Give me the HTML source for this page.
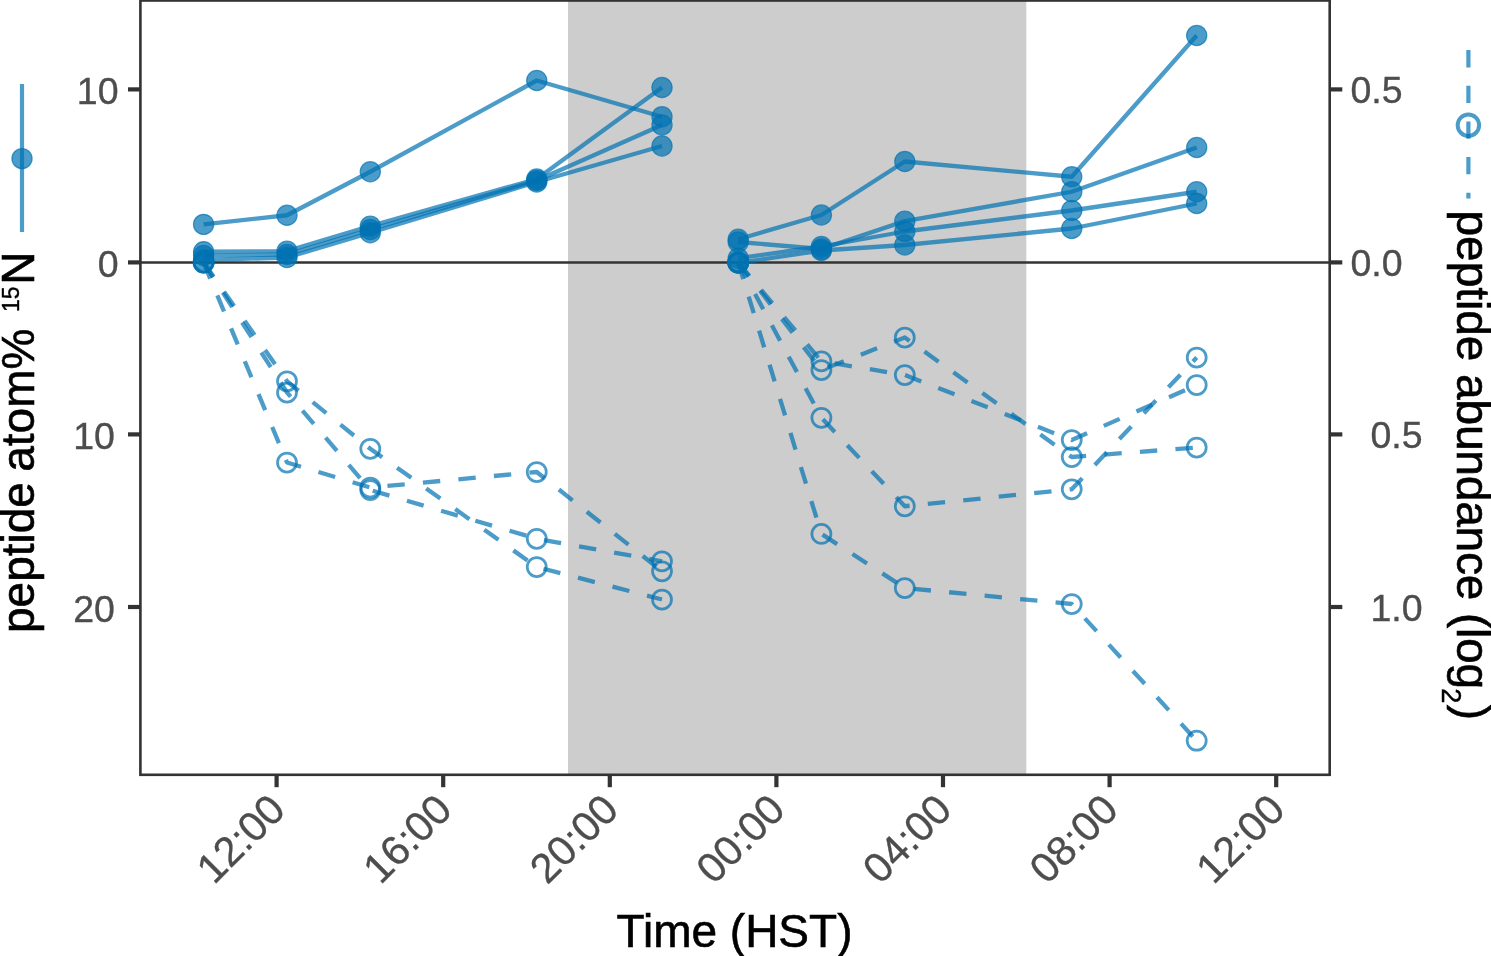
<!DOCTYPE html>
<html lang="en"><head><meta charset="utf-8"><title>peptide atom% 15N and abundance over time</title>
<style>
html,body{margin:0;padding:0;background:#fff;}
body{width:1491px;height:956px;overflow:hidden;}
svg{display:block;}
text{font-family:"Liberation Sans",sans-serif;}
.tk{font-size:37.5px;fill:#4d4d4d;stroke:#4d4d4d;stroke-width:0.35px;}
.tx{font-size:41.5px;fill:#4d4d4d;stroke:#4d4d4d;stroke-width:0.35px;}
.ti{font-size:46px;fill:#000;stroke:#000;stroke-width:0.6px;}
.ss{font-size:23px;stroke-width:0.4px;}
.sb{font-size:27px;stroke-width:0.45px;}
</style></head><body>
<svg width="1491" height="956" viewBox="0 0 1491 956">
<rect x="0" y="0" width="1491" height="956" fill="#ffffff"/>
<rect x="568" y="0" width="458.3" height="774.8" fill="#cdcdcd"/>
<line x1="140.4" y1="262.5" x2="1329.7" y2="262.5" stroke="#333333" stroke-width="2.6"/>
<g fill="none" stroke="#0072B2" stroke-opacity="0.7" stroke-width="4.3" stroke-linejoin="round">
<polyline points="203.6,224.4 287,215.25 370.3,171.75 536.75,80.5 662,116.75"/>
<polyline points="203.6,251.7 287,251.1 370.3,226.1 536.75,179 662,87.5"/>
<polyline points="203.6,255.5 287,254.5 370.3,229.5 536.75,180.5 662,125"/>
<polyline points="203.6,260 287,257.5 370.3,232.7 536.75,182 662,146"/>
<polyline points="738.2,239.3 821.4,215 904.8,161.5 1071.75,176.75 1196.7,35.5"/>
<polyline points="738.2,242 821.4,249 904.8,221.1 1071.75,191.75 1196.7,147.5"/>
<polyline points="738.2,258.2 821.4,246.5 904.8,231.5 1071.75,210.5 1196.7,191.75"/>
<polyline points="738.2,263 821.4,250.5 904.8,245 1071.75,228.5 1196.7,203.5"/>
</g>
<g fill="#0072B2" fill-opacity="0.7" stroke="#0072B2" stroke-opacity="0.7" stroke-width="1.2">
<circle cx="203.6" cy="224.4" r="10.1"/>
<circle cx="287" cy="215.25" r="10.1"/>
<circle cx="370.3" cy="171.75" r="10.1"/>
<circle cx="536.75" cy="80.5" r="10.1"/>
<circle cx="662" cy="116.75" r="10.1"/>
<circle cx="203.6" cy="251.7" r="10.1"/>
<circle cx="287" cy="251.1" r="10.1"/>
<circle cx="370.3" cy="226.1" r="10.1"/>
<circle cx="536.75" cy="179" r="10.1"/>
<circle cx="662" cy="87.5" r="10.1"/>
<circle cx="203.6" cy="255.5" r="10.1"/>
<circle cx="287" cy="254.5" r="10.1"/>
<circle cx="370.3" cy="229.5" r="10.1"/>
<circle cx="536.75" cy="180.5" r="10.1"/>
<circle cx="662" cy="125" r="10.1"/>
<circle cx="203.6" cy="260" r="10.1"/>
<circle cx="287" cy="257.5" r="10.1"/>
<circle cx="370.3" cy="232.7" r="10.1"/>
<circle cx="536.75" cy="182" r="10.1"/>
<circle cx="662" cy="146" r="10.1"/>
<circle cx="738.2" cy="239.3" r="10.1"/>
<circle cx="821.4" cy="215" r="10.1"/>
<circle cx="904.8" cy="161.5" r="10.1"/>
<circle cx="1071.75" cy="176.75" r="10.1"/>
<circle cx="1196.7" cy="35.5" r="10.1"/>
<circle cx="738.2" cy="242" r="10.1"/>
<circle cx="821.4" cy="249" r="10.1"/>
<circle cx="904.8" cy="221.1" r="10.1"/>
<circle cx="1071.75" cy="191.75" r="10.1"/>
<circle cx="1196.7" cy="147.5" r="10.1"/>
<circle cx="738.2" cy="258.2" r="10.1"/>
<circle cx="821.4" cy="246.5" r="10.1"/>
<circle cx="904.8" cy="231.5" r="10.1"/>
<circle cx="1071.75" cy="210.5" r="10.1"/>
<circle cx="1196.7" cy="191.75" r="10.1"/>
<circle cx="738.2" cy="263" r="10.1"/>
<circle cx="821.4" cy="250.5" r="10.1"/>
<circle cx="904.8" cy="245" r="10.1"/>
<circle cx="1071.75" cy="228.5" r="10.1"/>
<circle cx="1196.7" cy="203.5" r="10.1"/>
</g>
<g fill="none" stroke="#0072B2" stroke-opacity="0.7" stroke-width="4.3" stroke-dasharray="17.4 18.25" stroke-linejoin="round">
<polyline points="203.6,262.5 287,381.25 370.3,448.75 536.75,567 662,599.5"/>
<polyline points="203.6,262.5 287,392.5 370.3,490 536.75,538.75 662,561.25"/>
<polyline points="203.6,262.5 287,462.5 370.3,487.5 536.75,472 662,571.25"/>
<polyline points="738.2,262.5 821.4,361.25 904.8,375 1071.75,440 1196.7,385"/>
<polyline points="738.2,262.5 821.4,370 904.8,337.5 1071.75,457 1196.7,447.5"/>
<polyline points="738.2,262.5 821.4,417.75 904.8,506.25 1071.75,489.25 1196.7,357.5"/>
<polyline points="738.2,262.5 821.4,533.9 904.8,588 1071.75,604 1196.7,740.7"/>
</g>
<g fill="none" stroke="#0072B2" stroke-opacity="0.7" stroke-width="2.75">
<circle cx="203.6" cy="262.5" r="9.5"/>
<circle cx="287" cy="381.25" r="9.5"/>
<circle cx="370.3" cy="448.75" r="9.5"/>
<circle cx="536.75" cy="567" r="9.5"/>
<circle cx="662" cy="599.5" r="9.5"/>
<circle cx="203.6" cy="262.5" r="9.5"/>
<circle cx="287" cy="392.5" r="9.5"/>
<circle cx="370.3" cy="490" r="9.5"/>
<circle cx="536.75" cy="538.75" r="9.5"/>
<circle cx="662" cy="561.25" r="9.5"/>
<circle cx="203.6" cy="262.5" r="9.5"/>
<circle cx="287" cy="462.5" r="9.5"/>
<circle cx="370.3" cy="487.5" r="9.5"/>
<circle cx="536.75" cy="472" r="9.5"/>
<circle cx="662" cy="571.25" r="9.5"/>
<circle cx="738.2" cy="262.5" r="9.5"/>
<circle cx="821.4" cy="361.25" r="9.5"/>
<circle cx="904.8" cy="375" r="9.5"/>
<circle cx="1071.75" cy="440" r="9.5"/>
<circle cx="1196.7" cy="385" r="9.5"/>
<circle cx="738.2" cy="262.5" r="9.5"/>
<circle cx="821.4" cy="370" r="9.5"/>
<circle cx="904.8" cy="337.5" r="9.5"/>
<circle cx="1071.75" cy="457" r="9.5"/>
<circle cx="1196.7" cy="447.5" r="9.5"/>
<circle cx="738.2" cy="262.5" r="9.5"/>
<circle cx="821.4" cy="417.75" r="9.5"/>
<circle cx="904.8" cy="506.25" r="9.5"/>
<circle cx="1071.75" cy="489.25" r="9.5"/>
<circle cx="1196.7" cy="357.5" r="9.5"/>
<circle cx="738.2" cy="262.5" r="9.5"/>
<circle cx="821.4" cy="533.9" r="9.5"/>
<circle cx="904.8" cy="588" r="9.5"/>
<circle cx="1071.75" cy="604" r="9.5"/>
<circle cx="1196.7" cy="740.7" r="9.5"/>
</g>
<rect x="140.4" y="0.5" width="1189.3" height="774.3" fill="none" stroke="#333333" stroke-width="2.6"/>
<g stroke="#333333" stroke-width="4.2">
<line x1="128" y1="89.4" x2="140.4" y2="89.4"/>
<line x1="1329.7" y1="89.4" x2="1342.3" y2="89.4"/>
<line x1="128" y1="262.4" x2="140.4" y2="262.4"/>
<line x1="1329.7" y1="262.4" x2="1342.3" y2="262.4"/>
<line x1="128" y1="434.4" x2="140.4" y2="434.4"/>
<line x1="1329.7" y1="434.4" x2="1342.3" y2="434.4"/>
<line x1="128" y1="607" x2="140.4" y2="607"/>
<line x1="1329.7" y1="607" x2="1342.3" y2="607"/>
<line x1="276.6" y1="774.8" x2="276.6" y2="787.2"/>
<line x1="443.2" y1="774.8" x2="443.2" y2="787.2"/>
<line x1="609.8" y1="774.8" x2="609.8" y2="787.2"/>
<line x1="776.4" y1="774.8" x2="776.4" y2="787.2"/>
<line x1="943" y1="774.8" x2="943" y2="787.2"/>
<line x1="1109.6" y1="774.8" x2="1109.6" y2="787.2"/>
<line x1="1276.2" y1="774.8" x2="1276.2" y2="787.2"/>
</g>
<text class="tk" x="118.5" y="103.9" text-anchor="end">10</text>
<text class="tk" x="118.5" y="276.9" text-anchor="end">0</text>
<text class="tk" x="114.9" y="448.9" text-anchor="end">10</text>
<text class="tk" x="114.9" y="621.5" text-anchor="end">20</text>
<text class="tk" x="1350.5" y="103.4">0.5</text>
<text class="tk" x="1350.5" y="276.4">0.0</text>
<text class="tk" x="1370.5" y="448.4">0.5</text>
<text class="tk" x="1370.5" y="621">1.0</text>
<text class="tx" text-anchor="end" transform="translate(287.4,812) rotate(-45)">12:00</text>
<text class="tx" text-anchor="end" transform="translate(454,812) rotate(-45)">16:00</text>
<text class="tx" text-anchor="end" transform="translate(620.6,812) rotate(-45)">20:00</text>
<text class="tx" text-anchor="end" transform="translate(787.2,812) rotate(-45)">00:00</text>
<text class="tx" text-anchor="end" transform="translate(953.8,812) rotate(-45)">04:00</text>
<text class="tx" text-anchor="end" transform="translate(1120.4,812) rotate(-45)">08:00</text>
<text class="tx" text-anchor="end" transform="translate(1287,812) rotate(-45)">12:00</text>
<text class="ti" x="734.5" y="947.2" text-anchor="middle">Time (HST)</text>
<text class="ti" transform="translate(34.4,633) rotate(-90)">peptide<tspan dx="-2.5"> atom%</tspan><tspan class="ss" dx="16.6" dy="-15.7">15</tspan><tspan dx="1.6" dy="15.7">N</tspan></text>
<text class="ti" transform="translate(1457.4,210.5) rotate(90)">peptide<tspan letter-spacing="-0.16"> abundance (log</tspan><tspan class="sb" dx="-0.8" dy="15.7">2</tspan><tspan dx="1.6" dy="-15.7">)</tspan></text>
<line x1="22" y1="84" x2="22" y2="232" stroke="#0072B2" stroke-opacity="0.7" stroke-width="4.2"/>
<circle cx="22" cy="158.6" r="10.1" fill="#0072B2" fill-opacity="0.7" stroke="#0072B2" stroke-opacity="0.7" stroke-width="1.2"/>
<line x1="1468.4" y1="50.1" x2="1468.4" y2="198.4" stroke="#0072B2" stroke-opacity="0.7" stroke-width="4.2" stroke-dasharray="17.3 18.35"/>
<circle cx="1468.4" cy="125.2" r="10.7" fill="none" stroke="#0072B2" stroke-opacity="0.7" stroke-width="4"/>
</svg>
</body></html>
